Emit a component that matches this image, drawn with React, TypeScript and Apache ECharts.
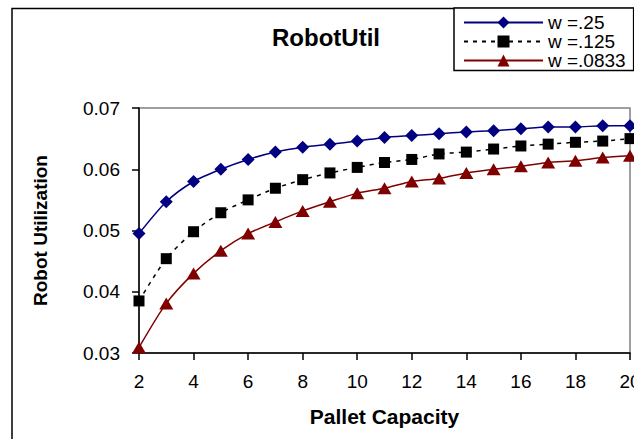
import React, { useEffect, useRef } from "react";
import * as echarts from "echarts";

// Pallet capacity (x) and robot utilization for three values of w
const palletCapacity = [2, 3, 4, 5, 6, 7, 8, 9, 10, 11, 12, 13, 14, 15, 16, 17, 18, 19, 20];
const utilW25 = [0.0495, 0.0547, 0.058, 0.0600, 0.0616, 0.0628, 0.0636, 0.0641, 0.0646, 0.0652, 0.0655, 0.0658, 0.0661, 0.0663, 0.0666, 0.0669, 0.0669, 0.0671, 0.0671];
const utilW125 = [0.0385, 0.0454, 0.0498, 0.0529, 0.055, 0.0569, 0.0583, 0.0594, 0.0603, 0.0611, 0.0616, 0.0625, 0.0628, 0.0633, 0.0638, 0.0641, 0.0644, 0.0646, 0.065];
const utilW0833 = [0.0309, 0.0381, 0.043, 0.0467, 0.0495, 0.0514, 0.0532, 0.0547, 0.0561, 0.0569, 0.058, 0.0585, 0.0594, 0.06, 0.0605, 0.0611, 0.0614, 0.0619, 0.0622];
const seriesNames = ["w =.25", "w =.125", "w =.0833"];
const yTicks = { min: 0.03, max: 0.07, step: 0.01 };
const xTicks = { min: 2, max: 20, step: 2 };

const FONT = "'Liberation Sans', Arial, Helvetica, sans-serif";

const pairs = (vals: number[]) => palletCapacity.map((c, i) => [c, vals[i]]);

export default function App() {
  const ref = useRef<HTMLDivElement>(null);

  useEffect(() => {
    if (!ref.current) return;
    const chart = echarts.init(ref.current, undefined, { renderer: "svg" });
    chart.setOption({
      animation: false,
      backgroundColor: "#ffffff",
      textStyle: { fontFamily: FONT, color: "#000" },
      title: {
        text: "RobotUtil",
        left: 272,
        top: 25,
        padding: 0,
        textStyle: { fontFamily: FONT, fontSize: 24, fontWeight: "bold", color: "#000" },
      },
      graphic: [
        {
          type: "rect",
          z: -10,
          silent: true,
          shape: { x: 12, y: 8.5, width: 800, height: 600 },
          style: { fill: "none", stroke: "#000", lineWidth: 1.5 },
        },
      ],
      legend: {
        orient: "vertical",
        left: 454,
        top: 8,
        padding: [5, 8, 0.5, 9],
        itemGap: 0,
        itemWidth: 79,
        itemHeight: 15,
        borderColor: "#000",
        borderWidth: 1.5,
        backgroundColor: "#fff",
        borderRadius: 0,
        textStyle: { fontFamily: FONT, fontSize: 19, lineHeight: 17, color: "#000" },
        data: seriesNames,
      },
      grid: {
        left: 139,
        right: 4,
        top: 108,
        bottom: 86,
        outerBoundsMode: "none",
        containLabel: false,
        show: true,
        borderColor: "#808080",
        borderWidth: 1.5,
        backgroundColor: "transparent",
      },
      xAxis: {
        type: "value",
        min: xTicks.min,
        max: xTicks.max,
        interval: xTicks.step,
        name: "Pallet Capacity",
        nameLocation: "middle",
        nameGap: 53,
        nameTextStyle: { fontFamily: FONT, fontSize: 21, fontWeight: "bold", color: "#000" },
        axisLine: { show: true, lineStyle: { color: "#000", width: 1.5 } },
        axisTick: { show: true, inside: false, length: 7, lineStyle: { color: "#000", width: 1.5 } },
        axisLabel: { fontFamily: FONT, fontSize: 19, color: "#000", margin: 19, hideOverlap: false },
        splitLine: { show: false },
      },
      yAxis: {
        type: "value",
        min: yTicks.min,
        max: yTicks.max,
        interval: yTicks.step,
        name: "Robot Utilization",
        nameLocation: "middle",
        nameGap: 89,
        nameTextStyle: { fontFamily: FONT, fontSize: 19, fontWeight: "bold", color: "#000" },
        axisLine: { show: true, lineStyle: { color: "#000", width: 1.5 } },
        axisTick: { show: true, inside: false, length: 7, lineStyle: { color: "#000", width: 1.5 } },
        axisLabel: {
          fontFamily: FONT,
          fontSize: 19,
          color: "#000",
          margin: 19,
          formatter: (v: number) => v.toFixed(2),
        },
        splitLine: { show: false },
      },
      series: [
        {
          name: seriesNames[0],
          type: "line",
          data: pairs(utilW25),
          smooth: 0.25,
          clip: false,
          symbol: "diamond",
          symbolSize: [13, 13],
          color: "#000080",
          itemStyle: { color: "#000080" },
          lineStyle: { color: "#000080", width: 1.5 },
        },
        {
          name: seriesNames[1],
          type: "line",
          data: pairs(utilW125),
          smooth: 0.25,
          clip: false,
          symbol: "rect",
          symbolSize: 11,
          color: "#000000",
          itemStyle: { color: "#000000" },
          lineStyle: { color: "#000000", width: 1.5, type: [4, 5] },
        },
        {
          name: seriesNames[2],
          type: "line",
          data: pairs(utilW0833),
          smooth: 0.25,
          clip: false,
          symbol: "triangle",
          symbolSize: [14, 12],
          color: "#800000",
          itemStyle: { color: "#800000" },
          lineStyle: { color: "#800000", width: 1.5 },
        },
      ],
    });
    return () => chart.dispose();
  }, []);

  return (
    <div
      ref={ref}
      style={{ position: "fixed", left: 0, top: 0, width: 634, height: 439, background: "#fff" }}
    />
  );
}
